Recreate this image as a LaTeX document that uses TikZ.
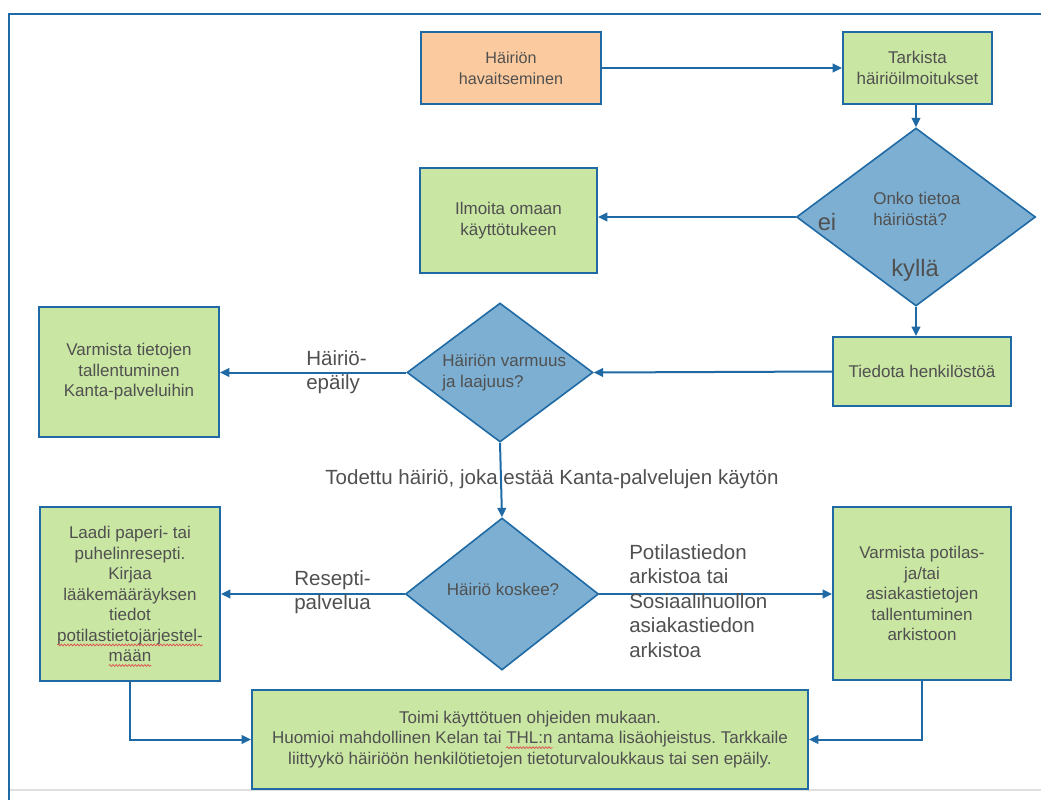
\documentclass[tikz,border=0pt]{standalone}
\usepackage{fontspec}
\setmainfont{Liberation Sans}
\frenchspacing
\usetikzlibrary{arrows.meta,shapes.geometric,decorations.pathmorphing}
\definecolor{bblue}{HTML}{1F6AA5}
\definecolor{gfill}{HTML}{C9E6A3}
\definecolor{ofill}{HTML}{FBCA9E}
\definecolor{dfill}{HTML}{7DAFD2}
\definecolor{tgray}{HTML}{505050}
\definecolor{spellred}{HTML}{E04A4A}
\newcommand\boxfont{\fontsize{12.75}{15.4}\selectfont}
\tikzset{
  box/.style={draw=bblue, line width=1.5pt, fill=gfill, text=tgray, align=center,
    font=\boxfont, inner sep=2pt},
  dia/.style={diamond, draw=bblue, line width=1.2pt, fill=dfill, inner sep=0pt},
  diatext/.style={text=tgray, align=left, font=\boxfont, inner sep=0pt},
  arr/.style={draw=bblue, line width=1.5pt, -{Triangle[length=7pt,width=6.5pt]}},
  lab/.style={text=tgray, font=\fontsize{15.4}{18.4}\selectfont, align=left, inner sep=0pt},
  biglab/.style={text=tgray, font=\fontsize{17.8}{20}\selectfont, inner sep=0pt},
  ghost/.style={font=\boxfont, inner sep=0pt, outer sep=0pt},
  wave/.style={draw=spellred, line width=0.5pt, decorate,
    decoration={snake, amplitude=0.7pt, segment length=2.4pt}}
}
\begin{document}
\begin{tikzpicture}[x=0.75pt,y=-0.75pt]
\useasboundingbox (0,0) rectangle (1041,800);
% frame
\draw[gray!25, line width=0.8pt] (10,790) -- (1041,790);
\draw[bblue, line width=1.8pt] (9,800) -- (9,14) -- (1041,14);

% nodes
\node[box, fill=ofill, minimum width=135pt, minimum height=54pt, font=\fontsize{12.1}{15.4}\selectfont] (hav) at (511,68) {Häiriön\\havaitseminen};
\node[box, minimum width=111.75pt, minimum height=54pt] (tark) at (917.5,68) {Tarkista\\häiriöilmoitukset};
\node[dia, minimum width=179.25pt, minimum height=133.5pt] (d1) at (916,217) {};
\node[diatext, anchor=west] (d1t) at (873,209) {Onko tietoa\\häiriöstä?};
\node[box, minimum width=132.75pt, minimum height=78.75pt] (ilm) at (508.5,220.5) {Ilmoita omaan\\käyttötukeen};
\node[box, minimum width=133.5pt, minimum height=51.75pt] (tied) at (922,371.5) {Tiedota henkilöstöä};
\node[dia, minimum width=139.5pt, minimum height=104.25pt] (d2) at (500,372.5) {};
\node[diatext, anchor=west] (d2t) at (442,372.5) {Häiriön varmuus\\ja laajuus?};
\node[box, minimum width=135pt, minimum height=97.5pt] (vt) at (129,372) {Varmista tietojen\\tallentuminen\\Kanta-palveluihin};
\node[dia, minimum width=144.75pt, minimum height=114pt] (d3) at (502,594) {};
\node[diatext] (d3t) at (503,589) {Häiriö koskee?};
\node[box, minimum width=135pt, minimum height=130.5pt] (laadi) at (130,594) {Laadi paperi- tai\\puhelinresepti.\\Kirjaa\\lääkemääräyksen\\tiedot\\potilastietojärjestel-\\mään};
\node[box, minimum width=133.5pt, minimum height=129.75pt] (vp) at (922,593.5) {Varmista potilas-\\ja/tai\\asiakastietojen\\tallentuminen\\arkistoon};
\node[box, minimum width=417pt, minimum height=74.25pt] (bot) at (530,739.5) {Toimi käyttötuen ohjeiden mukaan.\\Huomioi mahdollinen Kelan tai THL:n antama lisäohjeistus. Tarkkaile\\liittyykö häiriöön henkilötietojen tietoturvaloukkaus tai sen epäily.};

% spell-check marks (invisible place holders give the positions of the underlined words)
\node[ghost, anchor=base] (g6) at ([yshift=-35.4pt]laadi.center) {\phantom{potilastietojärjestel-}};
\node[ghost, anchor=base] (g7) at ([yshift=-50.8pt]laadi.center) {\phantom{mään}};
\node[ghost, anchor=base] (gl2) at ([yshift=-3.3pt]bot.center) {\phantom{Huomioi mahdollinen Kelan tai THL:n antama lisäohjeistus. Tarkkaile}};
\node[ghost, anchor=base west] (gpre) at (gl2.base west) {\phantom{Huomioi mahdollinen Kelan tai THL:n}};
\node[ghost, anchor=base east] (gthl) at (gpre.base east) {\phantom{THL:n}};
\draw[wave] ([yshift=-2.8pt]g6.base west) -- ([yshift=-2.8pt]g6.base east);
\draw[wave] ([yshift=-2.8pt]g7.base west) -- ([yshift=-2.8pt]g7.base east);
\draw[wave] ([yshift=-2.8pt]gthl.base west) -- ([yshift=-2.8pt]gthl.base east);

% connectors
\draw[arr] (hav.east) -- (tark.west);
\draw[arr] (tark.south -| d1.north) -- (d1.north);
\draw[arr] (d1.west) -- (d1.west -| ilm.east);
\draw[arr] (d1.south) -- (d1.south |- tied.north);
\draw[arr] (tied.west) -- (d2.east);
\draw[arr] (d2.west) -- (d2.west -| vt.east);
\draw[arr] (d2.south) -- (d3.north);
\draw[arr] (d3.west) -- (d3.west -| laadi.east);
\draw[arr] (d3.east) -- (d3.east -| vp.west);
\draw[arr] (laadi.south) |- (bot.west);
\draw[arr] (vp.south) |- (bot.east);

% labels
\node[biglab] (ei) at (827,222) {ei};
\node[biglab] (kylla) at (915,270) {kyllä};
\node[lab, anchor=west] (hep) at (306,372) {Häiriö-\\epäily};
\node[lab] (tod) at (552,479) {Todettu häiriö, joka estää Kanta-palvelujen käytön};
\node[lab, anchor=west] (res) at (294,592) {Resepti-\\palvelua};
\node[lab, anchor=west] (pot) at (629,601) {Potilastiedon\\arkistoa tai\\Sosiaalihuollon\\asiakastiedon\\arkistoa};
\end{tikzpicture}
\end{document}
